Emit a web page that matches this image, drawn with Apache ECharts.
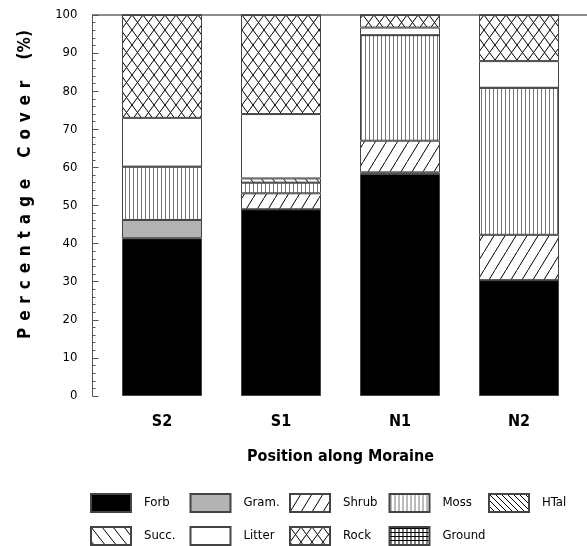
<!DOCTYPE html>
<html>
<head>
<meta charset="utf-8">
<script src="https://cdn.jsdelivr.net/npm/echarts@6/dist/echarts.min.js"></script>
<style>
  html, body { margin: 0; padding: 0; background: #fff; }
  #chart { width: 587px; height: 546px; }
</style>
</head>
<body>
<div id="chart"></div>
<script>
// Positions along the moraine
const categories = ['S2', 'S1', 'N1', 'N2'];

// Percentage cover by ground-cover class (stacked bottom to top)
const forb   = [41.4, 49.0, 58.3, 30.4];
const gram   = [4.8, 0, 0.4, 0];
const shrub  = [0, 4.2, 8.3, 11.9];
const moss   = [14.0, 2.8, 27.7, 38.6];
const htal   = [0, 0, 0, 0];
const succ   = [0, 1.1, 0, 0];
const litter = [12.8, 16.9, 2.0, 7.0];
const rock   = [27.0, 26.0, 3.3, 12.1];
const ground = [0, 0, 0, 0];

// Legend columns (top row / bottom row)
const legendColumns = [
  ['Forb', 'Succ.'],
  ['Gram.', 'Litter'],
  ['Shrub', 'Rock'],
  ['Moss', 'Ground'],
  ['HTal']
];
const legendColumnLeft = [90, 189.5, 289, 388.5, 488];

const NARROW = '"Liberation Sans Narrow", "DejaVu Sans Condensed", "Arial Narrow", sans-serif';

// Small canvas tiles used as repeating fill patterns
function tile(w, h, draw) {
  const c = document.createElement('canvas');
  c.width = w; c.height = h;
  const ctx = c.getContext('2d');
  ctx.fillStyle = '#fff';
  ctx.fillRect(0, 0, w, h);
  draw(ctx, w, h);
  return { image: c, repeat: 'repeat' };
}
function line(ctx, x1, y1, x2, y2, color, width) {
  ctx.strokeStyle = color;
  ctx.lineWidth = width;
  ctx.beginPath();
  ctx.moveTo(x1, y1);
  ctx.lineTo(x2, y2);
  ctx.stroke();
}

const patShrub = tile(11, 18, (ctx, w, h) => {
  line(ctx, -w, 2 * h, 2 * w, -h, '#000', 1);
});
const patMoss = tile(4, 4, (ctx, w, h) => {
  line(ctx, 1.5, -1, 1.5, h + 1, '#777', 1);
});
const patHtal = tile(6, 6, (ctx, w, h) => {
  line(ctx, -w, -h, 2 * w, 2 * h, '#000', 1);
});
const patSucc = tile(11, 14, (ctx, w, h) => {
  line(ctx, -w, -h, 2 * w, 2 * h, '#000', 1);
});
const patRock = tile(11, 15, (ctx, w, h) => {
  line(ctx, -w, -h, 2 * w, 2 * h, '#000', 1);
  line(ctx, 2 * w, -h, -w, 2 * h, '#000', 1);
});
const patGround = tile(4, 4, (ctx, w, h) => {
  line(ctx, 1.5, -1, 1.5, h + 1, '#000', 1);
  line(ctx, -1, 1.5, w + 1, 1.5, '#000', 1);
});

const layers = [
  { name: 'Forb',   data: forb,   color: '#000' },
  { name: 'Gram.',  data: gram,   color: '#b3b3b3' },
  { name: 'Shrub',  data: shrub,  color: patShrub },
  { name: 'Moss',   data: moss,   color: patMoss },
  { name: 'HTal',   data: htal,   color: patHtal },
  { name: 'Succ.',  data: succ,   color: patSucc },
  { name: 'Litter', data: litter, color: '#fff' },
  { name: 'Rock',   data: rock,   color: patRock },
  { name: 'Ground', data: ground, color: patGround }
];

// One vertical legend per column so the two rows line up
const legends = legendColumns.map((names, i) => ({
  orient: 'vertical',
  left: legendColumnLeft[i],
  top: 493,
  padding: 0,
  itemWidth: 40,
  itemHeight: 18,
  itemGap: 13,
  icon: 'rect',
  selectedMode: false,
  data: names,
  textStyle: {
    fontFamily: NARROW,
    fontSize: 13,
    color: '#000',
    padding: [0, 0, 0, 8]
  }
}));

// Axis title with widened letter spacing
const yTitle = 'Percentage'.split('').join(' \u200A') + '    ' +
               'Cover'.split('').join(' \u200A') + '    (%)';

const chart = echarts.init(document.getElementById('chart'), null, { renderer: 'canvas' });
chart.setOption({
  animation: false,
  backgroundColor: '#fff',
  grid: { left: 102.5, right: 8.5, top: 15, bottom: 150 },
  legend: legends,
  xAxis: {
    type: 'category',
    data: categories,
    axisLine: { show: false },
    axisTick: { show: false },
    axisLabel: {
      margin: 18,
      fontFamily: NARROW,
      fontWeight: 'bold',
      fontSize: 16,
      color: '#000'
    },
    name: 'Position along Moraine',
    nameLocation: 'middle',
    nameGap: 53,
    nameTextStyle: {
      fontFamily: NARROW,
      fontWeight: 'bold',
      fontSize: 16,
      color: '#000'
    }
  },
  yAxis: {
    type: 'value',
    min: 0,
    max: 100,
    interval: 10,
    offset: 10,
    splitLine: { show: false },
    axisLine: { show: true, lineStyle: { color: '#555', width: 1 } },
    axisTick: { show: true, inside: true, length: 6, lineStyle: { color: '#555' } },
    minorTick: { show: true, splitNumber: 5, length: 3, lineStyle: { color: '#555' } },
    axisLabel: {
      margin: 15,
      fontFamily: NARROW,
      fontSize: 13,
      color: '#000'
    },
    name: yTitle,
    nameLocation: 'middle',
    nameGap: 58,
    nameTextStyle: {
      fontFamily: NARROW,
      fontWeight: 'bold',
      fontSize: 17,
      color: '#000',
      padding: [0, 0, 0, 42]
    }
  },
  graphic: [{
    type: 'line',
    shape: { x1: 92, y1: 15, x2: 587, y2: 15 },
    style: { stroke: '#666', lineWidth: 1.5 },
    silent: true
  }],
  series: layers.map(l => ({
    name: l.name,
    type: 'bar',
    stack: 'cover',
    barWidth: 80,
    data: l.data,
    itemStyle: { color: l.color, borderColor: '#444', borderWidth: 1 },
    emphasis: { disabled: true }
  }))
});
</script>
</body>
</html>
